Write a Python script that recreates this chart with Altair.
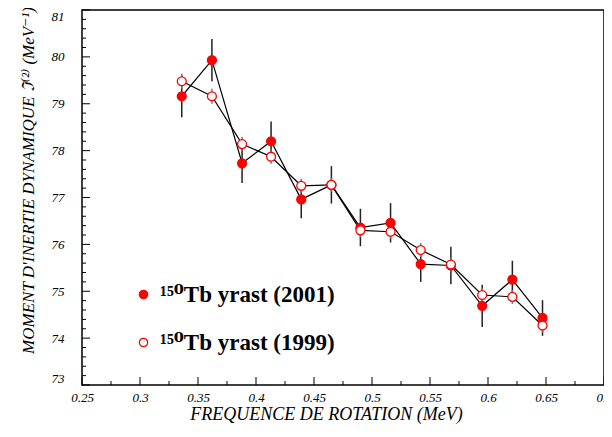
import altair as alt
import pandas as pd

# ---- data ----
freq = [0.336, 0.362, 0.388, 0.413, 0.439, 0.465, 0.490, 0.516, 0.542, 0.568, 0.595, 0.621, 0.647]
j2_2001 = [79.16, 79.93, 77.73, 78.20, 76.96, 77.27, 76.36, 76.46, 75.58, 75.55, 74.69, 75.25, 74.43]
err_2001 = [0.45, 0.45, 0.42, 0.42, 0.40, 0.40, 0.40, 0.42, 0.38, 0.40, 0.45, 0.40, 0.38]
j2_1999 = [79.48, 79.16, 78.14, 77.87, 77.25, 77.27, 76.30, 76.27, 75.88, 75.57, 74.92, 74.88, 74.27]
err_1999 = [0.16, 0.16, 0.15, 0.15, 0.15, 0.15, 0.15, 0.15, 0.15, 0.15, 0.15, 0.15, 0.15]

series_names = ["¹⁵⁰Tb yrast (2001)", "¹⁵⁰Tb yrast (1999)"]
x_major = [0.25, 0.3, 0.35, 0.4, 0.45, 0.5, 0.55, 0.6, 0.65, 0.7]
y_major = [73, 74, 75, 76, 77, 78, 79, 80, 81]
x_minor = [0.275, 0.325, 0.375, 0.425, 0.475, 0.525, 0.575, 0.625, 0.675]
y_minor = [round(73 + 0.2 * i, 1) for i in range(41) if i % 5 != 0]

rows = []
for xv, yv, ev in zip(freq, j2_2001, err_2001):
    rows.append({"x": xv, "y": yv, "lo": yv - ev, "hi": yv + ev, "series": series_names[0]})
for xv, yv, ev in zip(freq, j2_1999, err_1999):
    rows.append({"x": xv, "y": yv, "lo": yv - ev, "hi": yv + ev, "series": series_names[1]})
df = pd.DataFrame(rows)

W, H = 522, 375
xs = alt.Scale(domain=[0.25, 0.7], nice=False, zero=False)
ys = alt.Scale(domain=[73, 81], nice=False, zero=False)
FONT = "Liberation Serif, DejaVu Serif, serif"

x_axis = alt.Axis(values=x_major, format="~g", tickSize=0, domain=False, grid=False,
                  labelFont=FONT, labelFontStyle="italic", labelFontSize=13, labelPadding=6,
                  labelColor="black", labelFlush=False,
                  title="FREQUENCE DE ROTATION (MeV)", titleFont=FONT, titleFontStyle="italic",
                  titleFontWeight="normal", titleFontSize=18, titleColor="black",
                  titleX=244, titleY=34, titleAlign="center", titleBaseline="alphabetic")
y_axis = alt.Axis(values=y_major, tickSize=0, domain=False, grid=False,
                  labelFont=FONT, labelFontStyle="italic", labelFontSize=13, labelPadding=18,
                  labelColor="black", labelFlush=True,
                  title="MOMENT D'INERTIE DYNAMIQUE ℑ⁽²⁾ (MeV⁻¹)", titleFont=FONT,
                  titleFontStyle="italic", titleFontWeight="normal", titleFontSize=17,
                  titleColor="black", titleAngle=-90, titleX=-54, titleY=170,
                  titleAlign="center", titleBaseline="middle")

base = alt.Chart(df)

# frame around the plot area
frame = alt.Chart(pd.DataFrame({"k": [0]})).mark_rect(
    filled=False, stroke="black", strokeWidth=1.5
).encode(x=alt.value(0), x2=alt.value(W), y=alt.value(0), y2=alt.value(H))

# inward ticks drawn as tick marks on the tick values
def yticks(vals, length):
    return alt.Chart(pd.DataFrame({"v": vals})).mark_tick(
        color="black", thickness=1, size=length, orient="horizontal", opacity=1
    ).encode(y=alt.Y("v:Q", scale=ys, axis=y_axis), x=alt.value(length / 2))

def xticks(vals, length):
    return alt.Chart(pd.DataFrame({"v": vals})).mark_tick(
        color="black", thickness=1, size=length, orient="vertical", opacity=1
    ).encode(x=alt.X("v:Q", scale=xs, axis=x_axis), y=alt.value(H - length / 2))

lines = base.mark_line(color="black", strokeWidth=1.2).encode(
    x=alt.X("x:Q", scale=xs, axis=x_axis),
    y=alt.Y("y:Q", scale=ys, axis=y_axis),
    detail="series:N",
    order="x:Q",
)

err_a = base.transform_filter(alt.datum.series == series_names[0]).mark_rule(
    color="#222222", strokeWidth=1.5).encode(
    x=alt.X("x:Q", scale=xs, axis=x_axis),
    y=alt.Y("lo:Q", scale=ys, axis=y_axis),
    y2="hi:Q",
)
err_b = base.transform_filter(alt.datum.series == series_names[1]).mark_rule(
    color="#777777", strokeWidth=1.5).encode(
    x=alt.X("x:Q", scale=xs, axis=x_axis),
    y=alt.Y("lo:Q", scale=ys, axis=y_axis),
    y2="hi:Q",
)

pts = base.mark_circle(size=80, opacity=1, stroke="red", strokeWidth=1.3).encode(
    x=alt.X("x:Q", scale=xs, axis=x_axis),
    y=alt.Y("y:Q", scale=ys, axis=y_axis),
    fill=alt.Fill("series:N", sort=series_names,
                  scale=alt.Scale(domain=series_names, range=["red", "white"]),
                  legend=alt.Legend(orient="none", legendX=50, legendY=273, title=None,
                                    symbolType="circle", symbolSize=70,
                                    symbolStrokeColor="red", symbolStrokeWidth=1.2,
                                    symbolOpacity=1,
                                    labelFont=FONT, labelFontWeight="bold", labelFontSize=23,
                                    labelColor="black", labelOffset=5, rowPadding=24,
                                    padding=0, labelLimit=400)),
)

chart = alt.layer(
    lines, frame,
    yticks(y_major, 8), yticks(y_minor, 4), xticks(x_major, 8), xticks(x_minor, 4),
    err_a, err_b, pts,
).properties(
    width=W, height=H,
    background="white",
    autosize=alt.AutoSizeParams(type="none"),
    padding={"left": 74, "top": 2, "right": 0, "bottom": 44},
).configure_view(
    stroke="transparent"
)

chart.save("out.html", embed_options={"renderer": "svg", "actions": False})
